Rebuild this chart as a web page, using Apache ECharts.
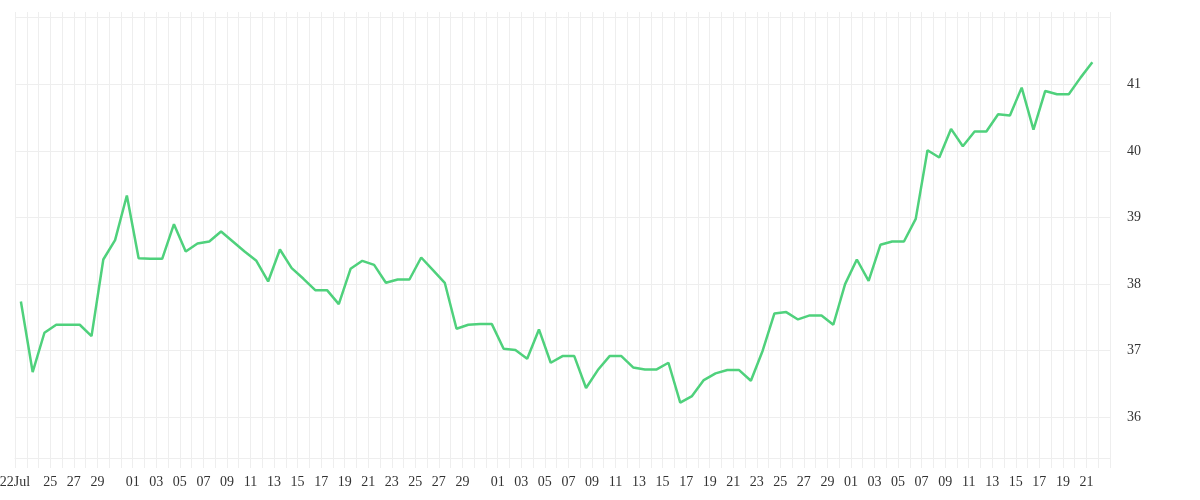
<!DOCTYPE html>
<html>
<head>
<meta charset="utf-8">
<script src="https://cdn.jsdelivr.net/npm/echarts@6/dist/echarts.min.js"></script>
<style>
  html, body { margin: 0; padding: 0; background: #fff; }
  #chart { width: 1200px; height: 500px; }
</style>
</head>
<body>
<div id="chart"></div>
<script>
// Categories: one per calendar day (Jul 22 .. Oct 22); last day has no value
const dayCategories = [
  '07-22','07-23','07-24','07-25','07-26','07-27','07-28','07-29','07-30','07-31',
  '08-01','08-02','08-03','08-04','08-05','08-06','08-07','08-08','08-09','08-10',
  '08-11','08-12','08-13','08-14','08-15','08-16','08-17','08-18','08-19','08-20',
  '08-21','08-22','08-23','08-24','08-25','08-26','08-27','08-28','08-29','08-30','08-31',
  '09-01','09-02','09-03','09-04','09-05','09-06','09-07','09-08','09-09','09-10',
  '09-11','09-12','09-13','09-14','09-15','09-16','09-17','09-18','09-19','09-20',
  '09-21','09-22','09-23','09-24','09-25','09-26','09-27','09-28','09-29','09-30',
  '10-01','10-02','10-03','10-04','10-05','10-06','10-07','10-08','10-09','10-10',
  '10-11','10-12','10-13','10-14','10-15','10-16','10-17','10-18','10-19','10-20',
  '10-21','10-22'
];

// Series values (Jul 22 .. Oct 21)
const values = [
  37.74, 36.68, 37.27, 37.39, 37.39, 37.39, 37.22, 38.37, 38.66, 39.33,
  38.39, 38.38, 38.38, 38.90, 38.49, 38.61, 38.64, 38.79, 38.64, 38.49,
  38.35, 38.04, 38.52, 38.24, 38.08, 37.91, 37.91, 37.70, 38.23, 38.35,
  38.29, 38.02, 38.07, 38.07, 38.40, 38.21, 38.02, 37.33, 37.39, 37.40,
  37.40, 37.03, 37.01, 36.88, 37.32, 36.82, 36.92, 36.92, 36.44, 36.71,
  36.92, 36.92, 36.75, 36.72, 36.72, 36.82, 36.22, 36.32, 36.56, 36.66,
  36.71, 36.71, 36.55, 37.00, 37.56, 37.58, 37.47, 37.53, 37.53, 37.39,
  38.00, 38.37, 38.05, 38.59, 38.64, 38.64, 38.98, 40.01, 39.90, 40.33,
  40.07, 40.29, 40.29, 40.55, 40.53, 40.95, 40.32, 40.90, 40.85, 40.85,
  41.10, 41.33
];

// Tick positions at day boundaries (midnight, Jul 22 .. Oct 23) and their labels
const tickLabels = [
  '22Jul','','','25','','27','','29','','',
  '01','','03','','05','','07','','09','','11','','13','','15','','17','','19','','21','','23','','25','','27','','29','','',
  '01','','03','','05','','07','','09','','11','','13','','15','','17','','19','','21','','23','','25','','27','','29','',
  '01','','03','','05','','07','','09','','11','','13','','15','','17','','19','','21','',''
];

// Y axis tick labels shown
const yTickLabels = [36, 37, 38, 39, 40, 41];

const FONT = 'Liberation Serif';
const GRID_COLOR = '#eeeeee';

const chart = echarts.init(document.getElementById('chart'), null, { renderer: 'canvas' });

chart.setOption({
  animation: false,
  backgroundColor: '#ffffff',
  grid: { left: 15, right: 90, top: 12, bottom: 42, containLabel: false, outerBoundsMode: 'none' },
  xAxis: [
    {
      type: 'category',
      data: dayCategories,
      boundaryGap: true,
      position: 'bottom',
      axisLine: { show: true, lineStyle: { color: GRID_COLOR, width: 1 } },
      axisTick: { show: true, interval: 0, length: 10, lineStyle: { color: GRID_COLOR, width: 1 } },
      axisLabel: { show: false },
      splitLine: { show: true, interval: 0, lineStyle: { color: GRID_COLOR, width: 1 } }
    },
    {
      type: 'category',
      data: tickLabels.map((_, i) => 't' + i),
      boundaryGap: false,
      position: 'bottom',
      axisLine: { show: false },
      axisTick: { show: false },
      splitLine: { show: false },
      axisLabel: {
        show: true,
        interval: 0,
        margin: 17,
        color: '#333333',
        fontFamily: FONT,
        fontSize: 14,
        formatter: (v, i) => tickLabels[i]
      }
    }
  ],
  yAxis: {
    type: 'value',
    position: 'right',
    min: 35.39,
    max: 42.085,
    splitNumber: 5,
    axisLine: { show: false },
    axisTick: { show: false },
    splitLine: { show: true, showMaxLine: false, showMinLine: false, lineStyle: { color: GRID_COLOR, width: 1 } },
    axisLabel: {
      show: true,
      margin: 17,
      color: '#333333',
      fontFamily: FONT,
      fontSize: 14,
      formatter: (v) => (yTickLabels.indexOf(v) >= 0 ? String(v) : '')
    }
  },
  series: [
    {
      type: 'line',
      xAxisIndex: 0,
      data: values,
      showSymbol: false,
      symbol: 'none',
      smooth: false,
      lineStyle: { color: '#4fd17c', width: 2.5 },
      itemStyle: { color: '#4fd17c' }
    }
  ]
});
</script>
</body>
</html>
